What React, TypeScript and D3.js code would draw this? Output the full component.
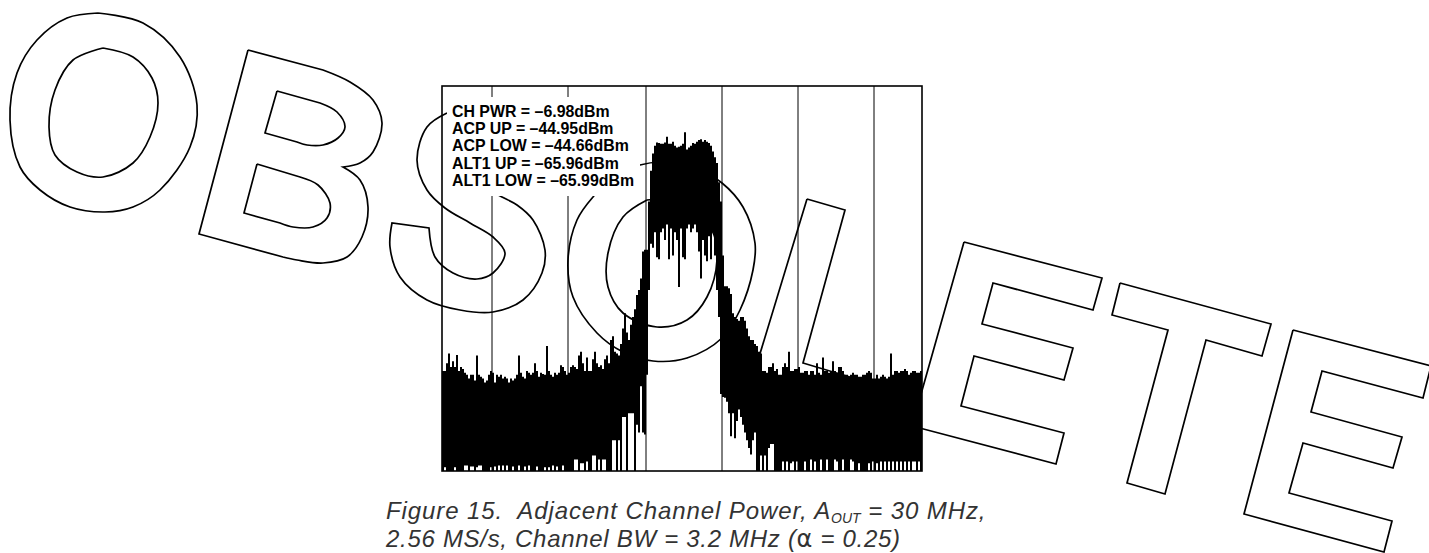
import React from "react";
import * as d3 from "d3";

const WIDTH = 1429;
const HEIGHT = 553;

// Vertical graticule positions, in bins of the trace
const gridBins = [24.5, 62.5, 101.5, 139.5, 177.5, 215.5];

// Readout lines
const readouts = [
  "CH PWR = –6.98dBm",
  "ACP UP = –44.95dBm",
  "ACP LOW = –44.66dBm",
  "ALT1 UP = –65.96dBm",
  "ALT1 LOW = –65.99dBm",
];

// Upper envelope of the trace, dB below the top of the screen
const traceUpper = [
  -74,-74,-72,-69.5,-73,-71.5,-73,-69.9,-74,-73,
  -73.5,-74.5,-75,-76,-75,-75,-76.5,-70,-75,-75.5,
  -76,-77,-76.5,-75,-74,-74.5,-77,-75,-75.5,-75,
  -76,-75.5,-76,-77,-76,-76.5,-76,-75,-70,-74.5,
  -75.5,-76,-74,-74.5,-75,-74.5,-72,-74,-75.5,-74.5,
  -74.8,-75,-67.5,-74,-75,-75.5,-74.5,-75,-74.5,-72.5,
  -73,-74,-75,-74.5,-73,-72.5,-73,-73.5,-70,-69,
  -72,-74,-70.5,-74,-74,-71,-69,-72,-73,-72.5,
  -73.5,-71,-70,-72,-66,-65,-69,-69.5,-70,-67,
  -63,-59,-64,-66,-62,-60,-58,-54.3,-53,-50,
  -43,-42.5,-42.5,-30,-22,-17.5,-15.5,-14.7,-14.8,-15,
  -15,-14.7,-13.2,-15,-15,-14.5,-15.5,-16,-15.8,-15.5,
  -15,-12,-16.5,-16,-15.5,-14.8,-15,-14.5,-14,-13.8,
  -14.5,-14,-14.5,-14.8,-15.5,-17,-18.5,-20,-25,-30,
  -44,-52,-52,-52.5,-54,-59,-60,-60.5,-61,-60,
  -60,-61,-63,-65,-66,-66,-67,-67.5,-69,-69.5,
  -74,-74,-74.5,-73,-73,-72,-74,-73.5,-75,-75,
  -73,-72,-73,-69,-74,-74,-73.5,-73.5,-73,-74.5,
  -74.5,-74,-74,-75,-74,-74,-75,-72,-74.5,-75,
  -70.5,-74,-74,-74.5,-74,-71.5,-74,-74.5,-73,-73,
  -74,-75,-75,-75.5,-75,-74.5,-75,-75,-75.5,-75.5,
  -75,-75,-74.5,-74,-74.5,-76,-76,-75,-76,-75.5,
  -75,-75.5,-76,-75.5,-69.5,-75,-74,-74,-74.5,-74,
  -74,-73.5,-74,-75,-74.5,-74,-74,-74.5,-74.5,-74,
];

// Lower envelope of the trace
const traceLower = [
  -100,-99,-100,-100,-100,-100,-99,-100,-100,-100,
  -100,-98.6,-98.6,-100,-98.8,-98.8,-100,-99,-98.6,-98.6,
  -100,-100,-100,-100,-99,-100,-98.8,-100,-98.6,-100,
  -98.6,-100,-98.6,-100,-100,-98.8,-100,-100,-98.6,-100,
  -100,-98.8,-100,-98.6,-100,-100,-100,-98.8,-100,-100,
  -100,-99,-100,-99,-100,-98.6,-100,-98.8,-100,-100,
  -98.6,-100,-100,-100,-100,-100,-97,-97,-100,-98,
  -98,-100,-97.5,-100,-100,-96,-96,-100,-97,-100,
  -97,-97,-100,-100,-100,-92,-92,-100,-92,-100,
  -86,-86,-100,-85,-85,-85,-100,-88,-90,-78,
  -90,-90.5,-75,-53,-41,-42,-38,-44.5,-45,-38,
  -37,-40,-36,-45,-37,-44,-38,-40,-52.2,-37,
  -44.5,-45,-37,-36,-38,-37,-36,-38,-43,-50,
  -40,-44,-45.5,-39,-45,-38,-44,-53,-60,-80,
  -80.8,-81,-82,-85,-91,-85,-91.5,-87,-84,-86,
  -88,-90,-92,-94,-95.7,-92,-90,-100,-100,-96,
  -100,-96,-100,-94,-93,-93,-100,-100,-100,-100,
  -97.5,-100,-97.5,-100,-98,-97.5,-100,-97.5,-100,-100,
  -100,-97.5,-100,-100,-97,-100,-97.5,-100,-100,-97,
  -100,-100,-97,-100,-100,-100,-97,-97.5,-100,-100,
  -97,-100,-100,-100,-97,-97.5,-100,-100,-98,-100,
  -100,-100,-100,-98,-100,-97.5,-100,-98,-100,-97.5,
  -100,-97.5,-100,-97.5,-100,-97.5,-100,-97.5,-100,-97.5,
  -100,-97.5,-100,-97.5,-100,-97.5,-97.5,-100,-97.5,-100,
];

type Pt = [number, number];
type Run = Pt[];

// A chain of straight edges: every vertex is a sharp corner
const edges = (pts: Pt[]): Run[] => pts.slice(1).map((p, i) => [pts[i], p]);

// OBSOLETE stamp outlines: each contour is a chain of runs, with a sharp corner where two runs meet
const letterO1: Run[][] = [
  [[[98,13],[143,23],[180,57],[197,105],[190,147],[160,190],[133,207],[105,212],[70,207],[40,190],[20,167],[10,120],[17,73],[37,40],[67,18],[98,13]]],
  [[[103,48],[133,57],[152,78],[158,103],[150,137],[133,163],[103,177],[77,172],[55,155],[49,127],[55,90],[73,60],[103,48]]],
];
const letterB: Run[][] = [
  [[[248,50],[323,70]],[[323,70],[350,82],[373,100],[382,123],[373,152],[360,163],[343,167]],[[343,167],[360,180],[368,207],[362,237],[347,257],[323,263],[297,260],[283,257]],[[283,257],[199,234]],[[199,234],[248,50]]],
  [[[277,91],[320,103]],[[320,103],[337,112],[345,127],[338,138],[323,145],[307,145],[297,142]],[[297,142],[265,133]],[[265,133],[277,91]]],
  [[[257,164],[300,177]],[[300,177],[318,185],[330,203],[327,218],[313,227],[293,227],[280,223]],[[280,223],[244,213]],[[244,213],[257,164]]],
];
const letterS: Run[][] = [
  [[[447,113],[427,127],[417,160],[427,190],[445,208],[470,223],[493,237],[505,253],[493,273],[477,279],[453,273],[435,257],[429,228]],[[429,228],[392,223]],[[392,223],[390,247],[400,277],[427,300],[460,310],[493,312],[523,300],[542,273],[545,250],[533,220],[517,205],[502,197],[485,188]]],
];
const letterO2: Run[][] = [
  [[[593,197],[577,220],[568,260],[573,297],[597,333],[623,352],[653,361],[687,358],[722,338],[740,310],[753,270],[755,243],[743,207],[722,183],[690,165],[660,162],[640,165],[612,176],[593,197]]],
  [[[647,200],[623,217],[608,253],[608,287],[623,313],[657,327],[687,320],[707,297],[717,260],[712,230],[695,212],[670,200],[647,200]]],
];
const letterL: Run[][] = [
  edges([[807,199],[845,210],[803,363],[880,386],[872,415],[752,380],[807,199]]),
];
const letterE1: Run[][] = [
  edges([[964,242],[1102,278],[1093,310],[993,283],[982,324],[1073,348],[1064,380],[974,356],[961,406],[1064,433],[1056,464],[912,426],[964,242]]),
];
const letterT: Run[][] = [
  edges([[1120,283],[1271,324],[1262,356],[1206,340],[1165,494],[1127,483],[1168,330],[1112,315],[1120,283]]),
];
const letterE2: Run[][] = [
  edges([[1293,330],[1431,366],[1423,398],[1322,371],[1311,412],[1402,437],[1393,468],[1303,443],[1289,493],[1392,521],[1384,552],[1244,514],[1293,330]]),
];
const stampLetters = [letterO1, letterB, letterS, letterO2, letterL, letterE1, letterT, letterE2];

const captionFont = "'Liberation Sans', Arial, sans-serif";

const smooth = d3.line<Pt>().curve(d3.curveCatmullRom.alpha(0.5));

function contourPath(runs: Run[]): string {
  return runs
    .map((run, i) => {
      const d = smooth(run) as string;
      return i === 0 ? d : "L" + d.slice(1);
    })
    .join("");
}

export default function App() {
  const plot = { left: 442, right: 922, top: 86, bottom: 471 };
  const x = d3.scaleLinear().domain([0, traceUpper.length - 1]).range([443, 921]);
  const y = d3.scaleLinear().domain([-100, 0]).range([plot.bottom, plot.top]);

  return (
    <svg
      width={WIDTH}
      height={HEIGHT}
      viewBox={`0 0 ${WIDTH} ${HEIGHT}`}
      style={{ position: "absolute", left: 0, top: 0, display: "block", background: "#fff" }}
    >
      <g fill="none" stroke="#000" strokeWidth={1.7} strokeLinejoin="miter">
        {stampLetters.map((letter, i) => (
          <path key={i} d={letter.map(contourPath).join("")} />
        ))}
      </g>

      {gridBins.map((b) => (
        <line key={b} x1={x(b)} x2={x(b)} y1={plot.top} y2={plot.bottom} stroke="#000" strokeWidth={1} />
      ))}

      <rect x={447} y={97} width={193} height={99} fill="#fff" />
      <g fontFamily="'Liberation Sans', Arial, sans-serif" fontWeight="bold" fontSize={15.9} fill="#000">
        {readouts.map((t, i) => (
          <text key={t} x={452} y={116.7 + i * 17.3}>{t}</text>
        ))}
      </g>

      <rect
        x={plot.left}
        y={plot.top}
        width={plot.right - plot.left}
        height={plot.bottom - plot.top}
        fill="none"
        stroke="#000"
        strokeWidth={1.6}
      />

      <g stroke="#000" strokeWidth={2}>
        {traceUpper.map((u, i) => (
          <line key={i} x1={x(i)} x2={x(i)} y1={y(u)} y2={y(traceLower[i])} />
        ))}
      </g>

      <g fontFamily={captionFont} fontStyle="italic" fontSize={24} fill="#333">
        <text x={386} y={519} letterSpacing={0.9} xmlSpace="preserve">
          {"Figure 15.  Adjacent Channel Power, A"}
          <tspan fontSize={14} letterSpacing={0} dy={4}>OUT</tspan>
          <tspan dy={-4}>{" = 30 MHz,"}</tspan>
        </text>
        <text x={386} y={547} letterSpacing={0.7}>
          {"2.56 MS/s, Channel BW = 3.2 MHz ("}
          <tspan fontFamily="'DejaVu Sans', sans-serif" fontStyle="normal">α</tspan>
          {" = 0.25)"}
        </text>
      </g>
    </svg>
  );
}
